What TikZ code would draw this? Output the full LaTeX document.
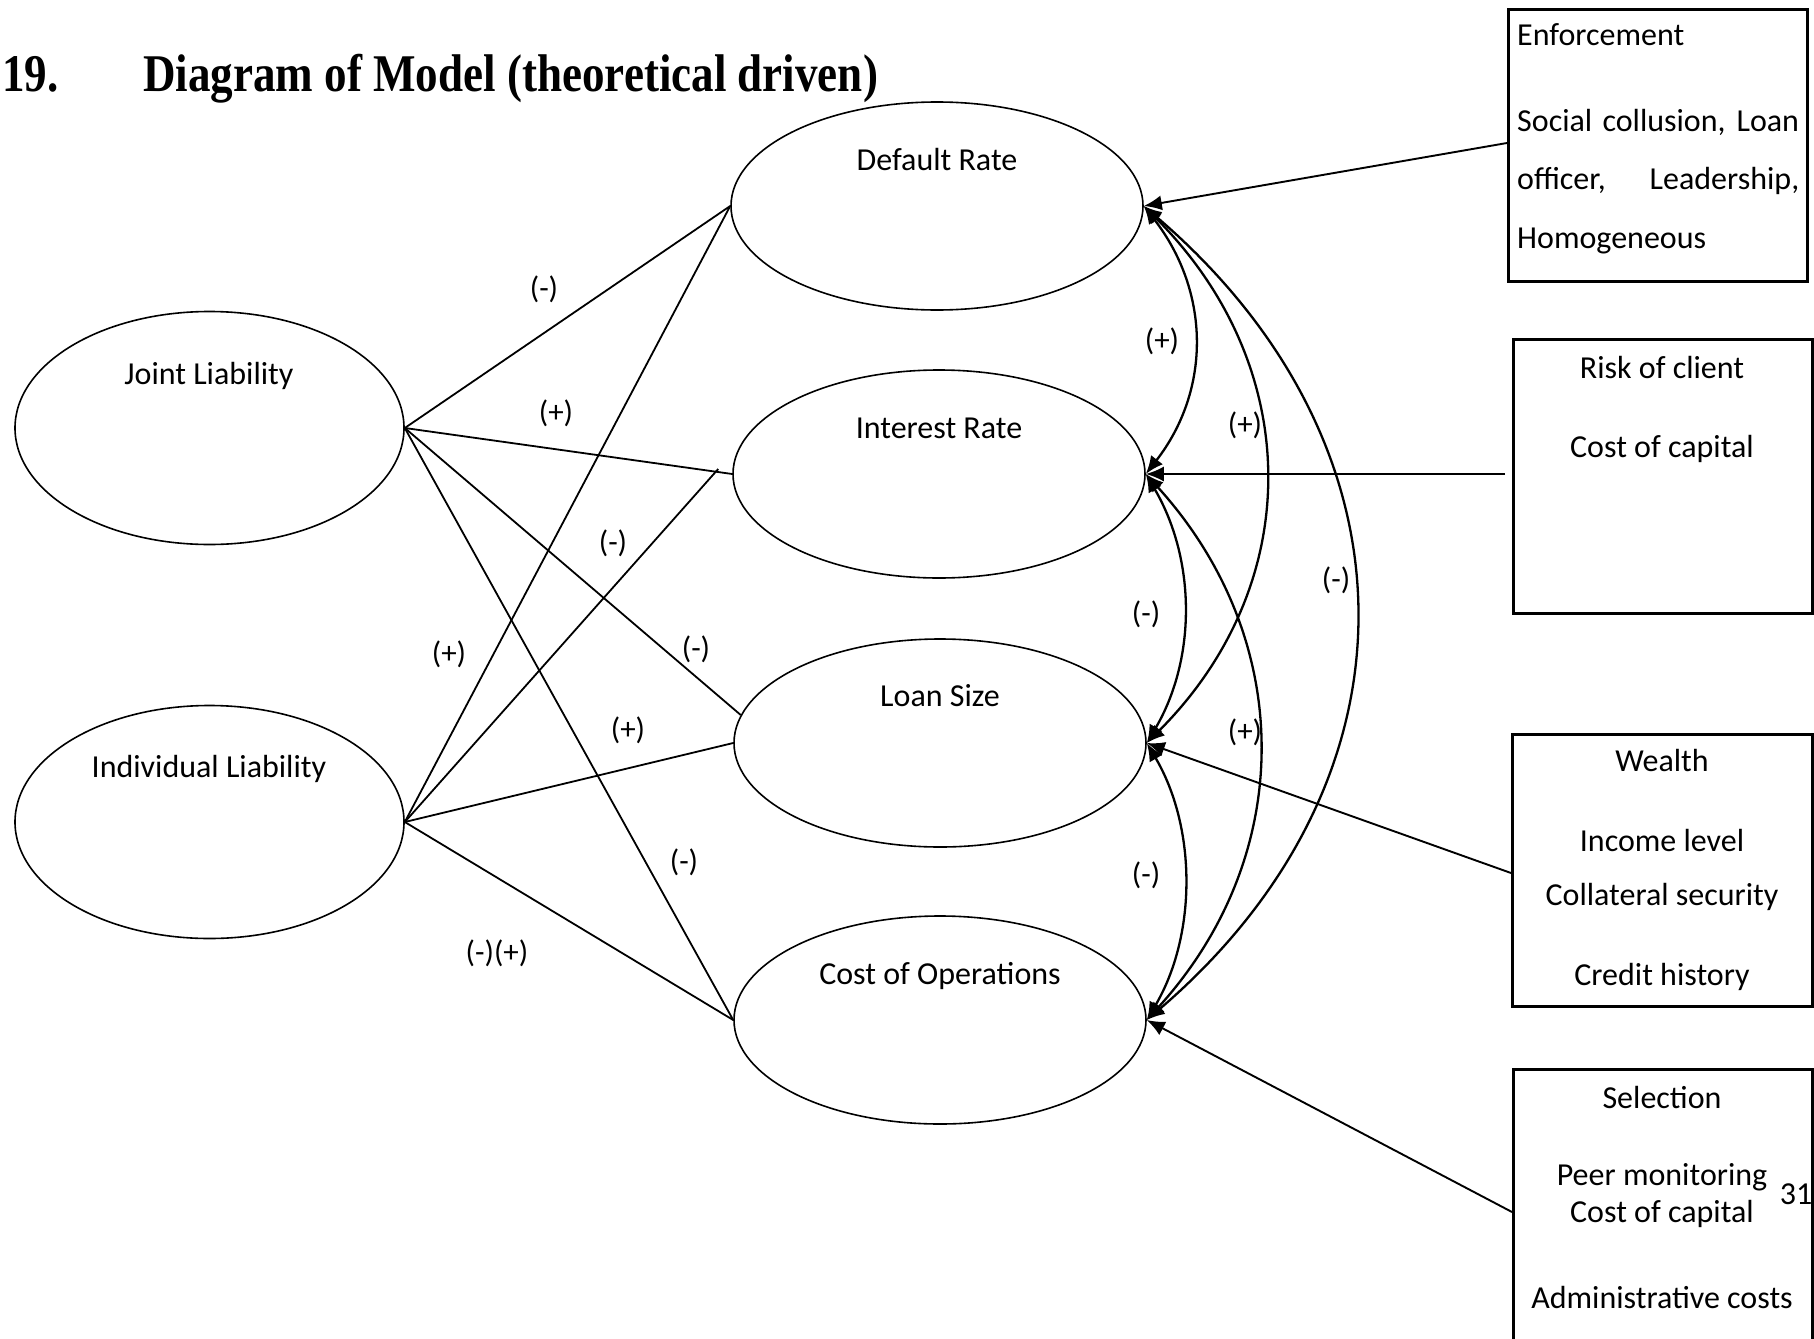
\documentclass[tikz,border=0pt]{standalone}
\usepackage{graphicx}
\usepackage{fontspec}
\setmainfont{Carlito}
\newfontfamily\titlefont{Liberation Serif}
\usetikzlibrary{shapes.geometric,arrows.meta,calc}
\begin{document}
\begin{tikzpicture}[x=1pt,y=-1pt,
  ellA/.style={ellipse,draw,line width=1.6pt,inner sep=0pt,minimum width=389pt,minimum height=233pt},
  ellB/.style={ellipse,draw,line width=1.6pt,inner sep=0pt,minimum width=412pt,minimum height=208pt},
  boxed/.style={rectangle,draw,line width=2.6pt,inner sep=0pt,anchor=north west},
  txt/.style={font=\fontsize{32}{38}\selectfont,inner sep=0pt,anchor=base},
  txtl/.style={font=\fontsize{32}{38}\selectfont,inner sep=0pt,anchor=base west},
  sign/.style={font=\fontsize{31}{38}\selectfont,inner sep=0pt,anchor=base},
  link/.style={line width=1.8pt},
  rel/.style={line width=1.9pt,-{Latex[length=18pt,width=15pt]}},
  two/.style={line width=2.3pt,{Latex[length=18pt,width=15pt]}-{Latex[length=18pt,width=15pt]}},
  ttl/.style={inner sep=0pt,anchor=base west,font=\titlefont\bfseries\fontsize{53}{60}\selectfont}
]
\useasboundingbox (0,0) rectangle (1814,1338);

% title
\node[ttl] (num) at (2,91) {\scalebox{0.85}[1]{19.}};
\node[ttl] (title) at (143,91) {\scalebox{0.85}[1]{Diagram of Model (theoretical driven)}};

% ellipses
\node[ellA] (JL) at (209.5,428) {};
\node[ellA] (IL) at (209.5,822) {};
\node[ellB] (DR) at (937,206) {};
\node[ellB] (IR) at (939,474) {};
\node[ellB] (LS) at (940,743) {};
\node[ellB] (CO) at (940,1020) {};

\node[txt] (JLt) at (209,384) {Joint Liability};
\node[txt] (ILt) at (209,777) {Individual Liability};
\node[txt] (DRt) at (937,170) {Default Rate};
\node[txt] (IRt) at (939,438) {Interest Rate};
\node[txt] (LSt) at (940,706) {Loan Size};
\node[txt] (COt) at (940,984) {Cost of Operations};

% boxes
\node[boxed,minimum width=299pt,minimum height=272pt] (ENF) at (1507,8) {};
\node[boxed,minimum width=299pt,minimum height=274pt] (RSK) at (1512,338) {};
\node[boxed,minimum width=300pt,minimum height=272pt] (WLT) at (1511,733) {};
\node[boxed,minimum width=299pt,minimum height=300pt] (SEL) at (1512,1068) {};

\node[txtl] (e1) at (1517,46) {Enforcement};
\node[txtl] (e2) at (1517,131) {\makebox[282pt][s]{Social collusion, Loan}};
\node[txtl] (e3) at (1517,189) {\makebox[282pt][s]{officer, Leadership,}};
\node[txtl] (e4) at (1517,248) {Homogeneous};

\node[txt] (r1) at (1662,378) {Risk of client};
\node[txt] (r2) at (1662,457) {Cost of capital};

\node[txt] (w1) at (1662,771) {Wealth};
\node[txt] (w2) at (1662,851) {Income level};
\node[txt] (w3) at (1662,905) {Collateral security};
\node[txt] (w4) at (1662,985) {Credit history};

\node[txt] (s1) at (1662,1108) {Selection};
\node[txt] (s2) at (1662,1185) {Peer monitoring};
\node[txt] (s3) at (1662,1222) {Cost of capital};
\node[txt] (s4) at (1662,1308) {Administrative costs};
\node[txt] (pg) at (1796,1204) {31};

% left connectors
\draw[link] (JL.east) -- (DR.west);
\draw[link] (JL.east) -- (IR.west);
\draw[link] (JL.east) -- (LS.172);
\draw[link] (JL.east) -- (CO.west);
\draw[link] (IL.east) -- (DR.west);
\draw[link] (IL.east) -- ($(IR.west)+(-14,-5)$);
\draw[link] (IL.east) -- (LS.west);
\draw[link] (IL.east) -- (CO.west);

\node[sign] (l1) at (544,298) {(-)};
\node[sign] (l2) at (556,422) {(+)};
\node[sign] (l3) at (613,552) {(-)};
\node[sign] (l4) at (449,663) {(+)};
\node[sign] (l5) at (696,658) {(-)};
\node[sign] (l6) at (628,739) {(+)};
\node[sign] (l7) at (684,871) {(-)};
\node[sign] (l8) at (497,962) {(-)(+)};

% box connectors
\coordinate (enfP) at (1507,143);
\coordinate (rskP) at (1505,474);
\coordinate (wltP) at (1511,873);
\coordinate (selP) at (1512,1212);
\draw[rel] (enfP) -- (DR.east);
\draw[rel] (rskP) -- (IR.east);
\draw[rel] (wltP) -- (LS.east);
\draw[rel] (selP) -- (CO.east);

% right curves
\draw[two] (DR.east) .. controls +(66,85) and +(66,-85) .. (IR.east);
\draw[two] (DR.east) .. controls +(160,160) and +(160,-160) .. (LS.east);
\draw[two] (DR.east) .. controls +(280,240) and +(280,-240) .. (CO.east);
\draw[two] (IR.east) .. controls +(50,85) and +(50,-85) .. (LS.east);
\draw[two] (IR.east) .. controls +(150,165) and +(150,-165) .. (CO.east);
\draw[two] (LS.east) .. controls +(50,85) and +(50,-85) .. (CO.east);

\node[sign] (r1s) at (1162,350) {(+)};
\node[sign] (r2s) at (1245,434) {(+)};
\node[sign] (r3s) at (1336,589) {(-)};
\node[sign] (r4s) at (1146,623) {(-)};
\node[sign] (r5s) at (1245,741) {(+)};
\node[sign] (r6s) at (1146,884) {(-)};
\end{tikzpicture}
\end{document}
